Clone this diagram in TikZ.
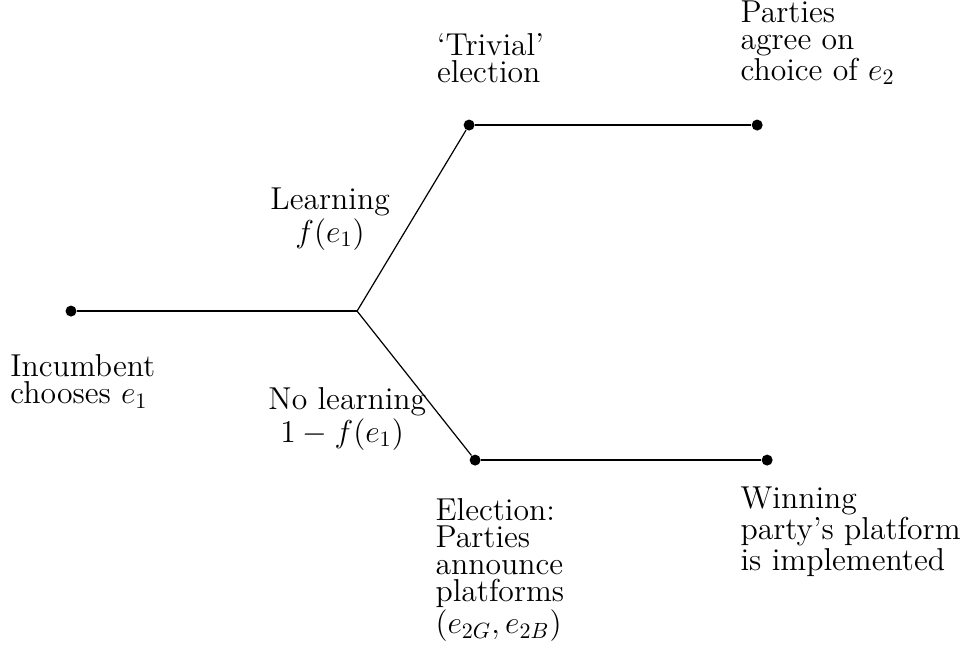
\documentclass[tikz,border=0pt]{standalone}
\usepackage{amsmath}

\begin{document}
\begin{tikzpicture}[scale=1,
    dot/.style={circle, fill, inner sep=0pt, minimum size=5pt},
    lbl/.style={inner sep=0pt, font=\fontsize{14.4}{12.2}\selectfont}]

    % Fix the page size
    \useasboundingbox (0,0) rectangle (15.38,-10.38);

    % Define the decision points
    \node[dot] (inc) at (1.134,-4.968) {};
    \coordinate (split) at (5.703,-4.968);
    \node[dot] (triv) at (7.492,-1.997) {};
    \node[dot] (agree) at (12.093,-1.997) {};
    \node[dot] (elect) at (7.588,-7.348) {};
    \node[dot] (win) at (12.252,-7.348) {};

    % Draw the branches
    \draw[line width=0.55pt] (inc) -- (split);
    \draw[line width=0.55pt] (split) -- (triv);
    \draw[line width=0.55pt] (split) -- (elect);
    \draw[line width=0.55pt] (triv) -- (agree);
    \draw[line width=0.55pt] (elect) -- (win);

    % Add the stage labels (placed by the baseline of their last line)
    \node[lbl, anchor=base west, align=left] (incl) at (0.160,-6.443)
        {Incumbent\\chooses $e_1$};
    \node[lbl, anchor=base west, align=left] (trivl) at (6.973,-1.321)
        {`Trivial'\\election};
    \node[lbl, anchor=base west, align=left] (agreel) at (11.821,-1.278)
        {Parties\\agree on\\choice of $e_2$};
    \node[lbl, anchor=base west, align=left] (electl) at (6.949,-10.117)
        {Election:\\Parties\\announce\\platforms\\$(e_{2G},e_{2B})$};
    \node[lbl, anchor=base west, align=left] (winl) at (11.821,-9.105)
        {Winning\\party's platform\\is implemented};

    % Add the branch probabilities
    \node[lbl, anchor=base, align=center] (learn) at (5.272,-3.866)
        {Learning\\$f(e_1)$};
    \node[lbl, anchor=base west, align=left] (nolearn) at (4.281,-7.061)
        {No learning\\\hspace{5.4pt}$1-f(e_1)$};

\end{tikzpicture}
\end{document}
